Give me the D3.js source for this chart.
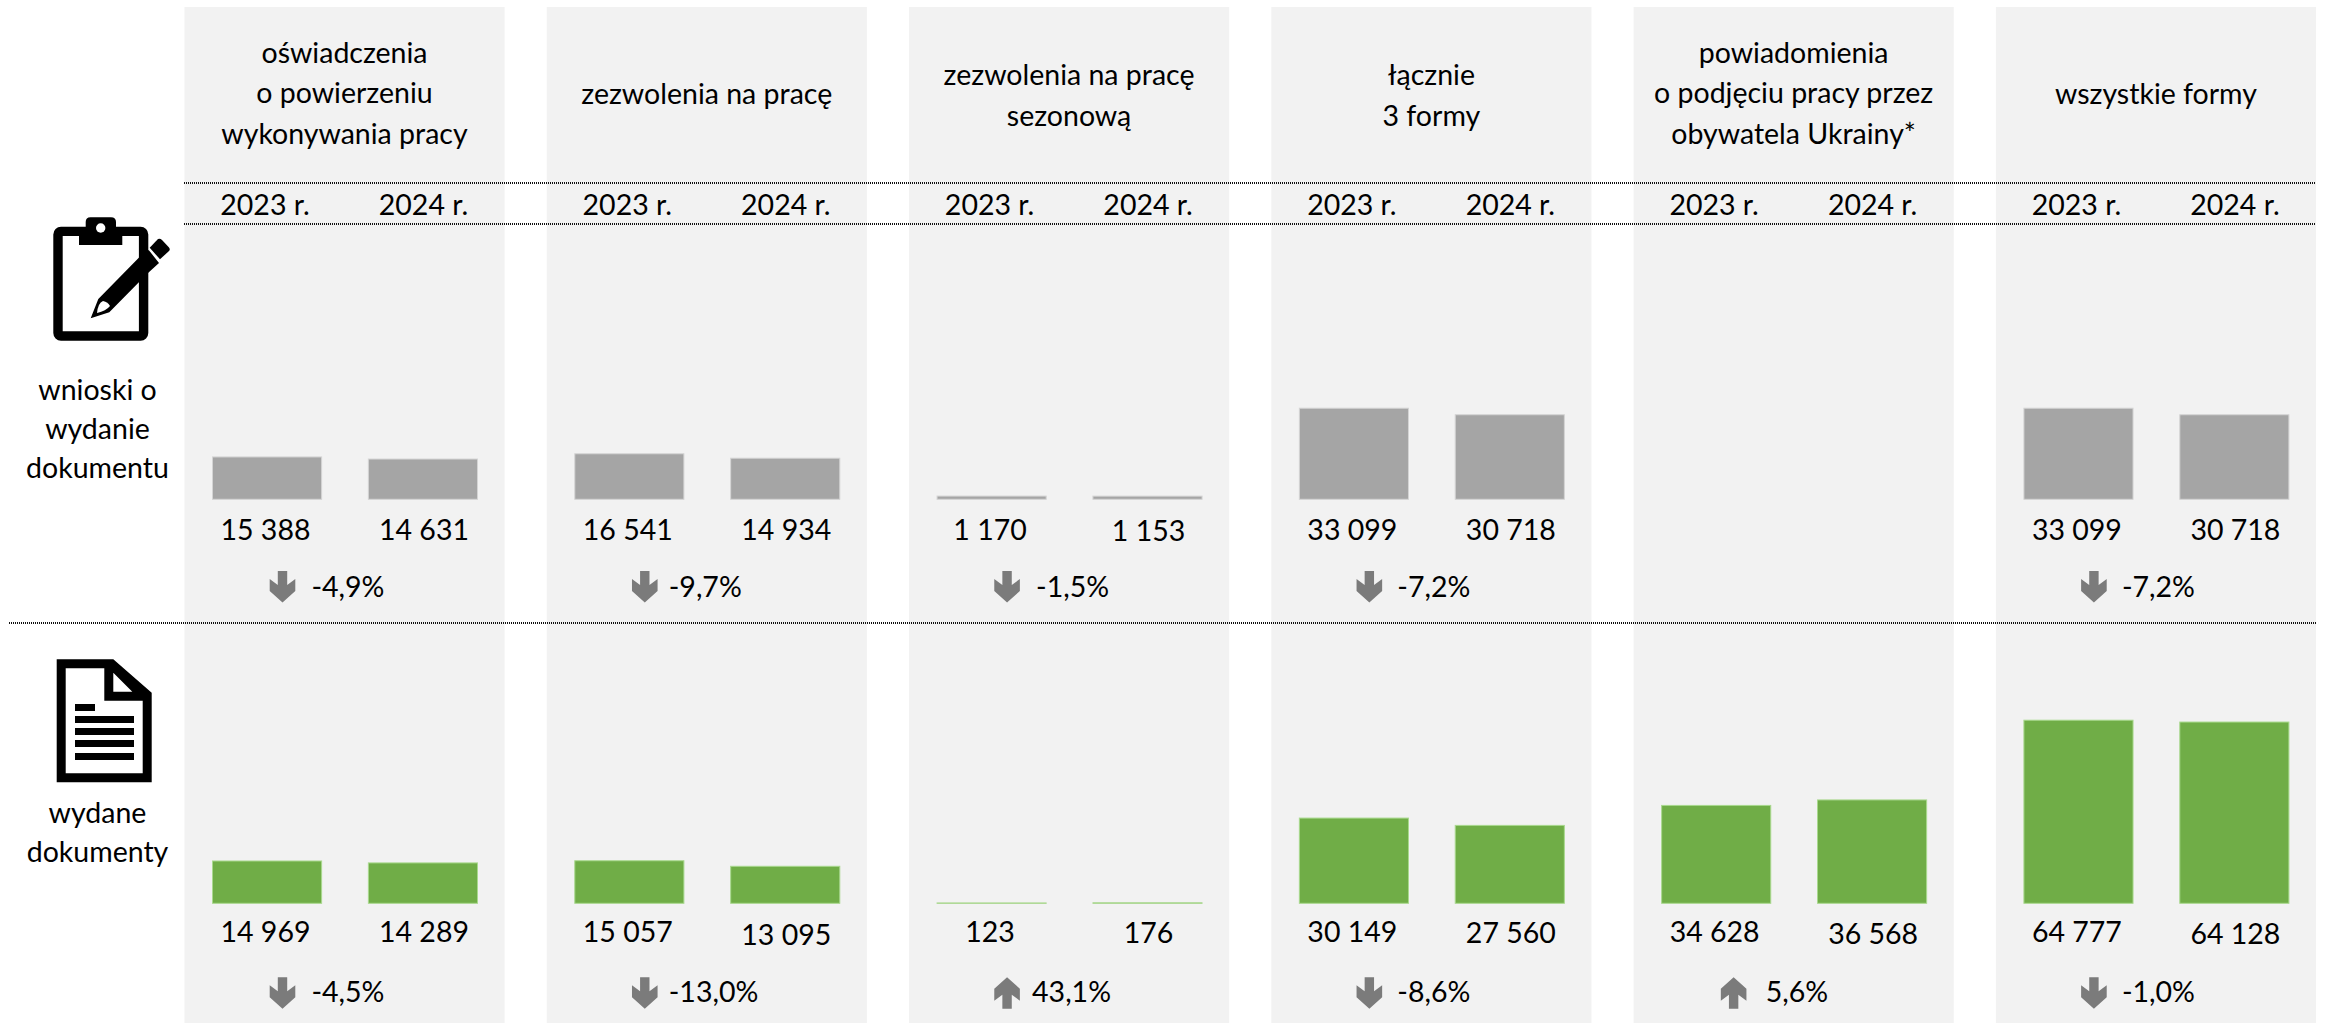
<!DOCTYPE html>
<html lang="pl">
<head>
<meta charset="utf-8">
<title>Dokumenty</title>
<script src="https://cdn.jsdelivr.net/npm/d3@7"></script>
<style>
  html, body { margin: 0; padding: 0; background: #fff; }
  svg { display: block; }
  text { font-family: Lato, "Open Sans", sans-serif; font-size: 28.5px; fill: #000; }
</style>
</head>
<body>
<svg id="wykres" width="2326" height="1023"></svg>
<script>
// dane
const lata = ["2023 r.", "2024 r."];
const formy = [
  ["oświadczenia", "o powierzeniu", "wykonywania pracy"],
  ["zezwolenia na pracę"],
  ["zezwolenia na pracę", "sezonową"],
  ["łącznie", "3 formy"],
  ["powiadomienia", "o podjęciu pracy przez", "obywatela Ukrainy*"],
  ["wszystkie formy"]
];
const wnioski2023 = [15388, 16541, 1170, 33099, null, 33099];
const wnioski2024 = [14631, 14934, 1153, 30718, null, 30718];
const wnioskiZmiana = [-4.9, -9.7, -1.5, -7.2, null, -7.2];
const wydane2023 = [14969, 15057, 123, 30149, 34628, 64777];
const wydane2024 = [14289, 13095, 176, 27560, 36568, 64128];
const wydaneZmiana = [-4.5, -13.0, 43.1, -8.6, 5.6, -1.0];

const svg = d3.select("#wykres");
const pl = d3.formatLocale({ decimal: ",", thousands: " ", grouping: [3], currency: ["", " zł"], minus: "-" });
const liczba = pl.format(",d");
const procent = v => pl.format(".1f")(v) + "%";

// kolumny i slupki
const kolumna = d3.scaleBand().domain(d3.range(6)).range([184.5, 2316]).paddingInner(42.2 / 362.3).paddingOuter(0);
const xRok = d3.scaleBand().domain(lata).range([28, 293]).paddingInner(0.3);
const yWnioski = d3.scaleLinear().domain([0, 33099]).range([499.3, 408.2]);
const yWydane = d3.scaleLinear().domain([0, 64777]).range([903.3, 720.2]);

// panele w tle
svg.selectAll("rect.panel")
  .data(d3.range(6))
  .enter().append("rect")
  .attr("class", "panel")
  .attr("x", d => kolumna(d))
  .attr("y", 7)
  .attr("width", kolumna.bandwidth())
  .attr("height", 1016)
  .attr("fill", "#f2f2f2");

// linie kropkowane
[[184, 183], [184, 224], [9, 623]].forEach(([x0, y]) => {
  svg.append("line")
    .attr("x1", x0).attr("x2", 2316)
    .attr("y1", y).attr("y2", y)
    .attr("stroke", "#111")
    .attr("stroke-width", 2)
    .attr("stroke-dasharray", "1 1");
});

// naglowki
const wysokoscWiersza = 40.6;
const startNaglowka = { 1: 104, 2: 85, 3: 62.7 };
formy.forEach((wiersze, i) => {
  const g = svg.append("g").attr("transform", `translate(${kolumna(i)},0)`);
  g.selectAll("text.forma")
    .data(wiersze)
    .enter().append("text")
    .attr("class", "forma")
    .attr("x", 160)
    .attr("y", (d, k) => startNaglowka[wiersze.length] + k * wysokoscWiersza)
    .attr("text-anchor", "middle")
    .text(d => d);
  g.selectAll("text.rok")
    .data(lata)
    .enter().append("text")
    .attr("class", "rok")
    .attr("x", (d, k) => [80.5, 239][k])
    .attr("y", 215)
    .attr("text-anchor", "middle")
    .text(d => d);
});

const strzalkaDol = "M-4.7,0 L4.7,0 L4.7,14 L12.8,8 L12.8,20 L0,31.4 L-12.8,20 L-12.8,8 L-4.7,14 Z";
const strzalkaGora = "M-4.7,31.4 L4.7,31.4 L4.7,17.4 L12.8,23.4 L12.8,11.4 L0,0 L-12.8,11.4 L-12.8,23.4 L-4.7,17.4 Z";

// jeden wiersz slupkow
function rzad(v23, v24, zmiana, y, kolor, obrys, yEtykiety, yStrzalki, yProcentu, xProcentu, xStrzalki, korekta) {
  d3.range(6).forEach(i => {
    if (v23[i] === null) return;
    const g = svg.append("g").attr("transform", `translate(${kolumna(i)},0)`);
    const wartosci = [v23[i], v24[i]];
    g.selectAll("rect.slupek")
      .data(wartosci)
      .enter().append("rect")
      .attr("class", "slupek")
      .attr("x", (d, k) => xRok(lata[k]))
      .attr("y", d => y(d))
      .attr("width", xRok.bandwidth())
      .attr("height", d => y(0) - y(d))
      .attr("fill", kolor)
      .attr("stroke", obrys)
      .attr("stroke-width", 1);
    g.selectAll("text.wartosc")
      .data(wartosci)
      .enter().append("text")
      .attr("class", "wartosc")
      .attr("x", (d, k) => [81, 239.5][k])
      .attr("y", (d, k) => yEtykiety + korekta[i][k])
      .attr("text-anchor", "middle")
      .text(d => liczba(d));
    g.append("path")
      .attr("d", zmiana[i] < 0 ? strzalkaDol : strzalkaGora)
      .attr("transform", `translate(${xStrzalki[i]},${yStrzalki})`)
      .attr("fill", "#7b7b7b");
    g.append("text")
      .attr("x", xProcentu[i])
      .attr("y", yProcentu)
      .text(procent(zmiana[i]));
  });
}

rzad(wnioski2023, wnioski2024, wnioskiZmiana, yWnioski, "#a5a5a5", "#d4d4d4",
  539.5, 571, 597.3, [127, 122, 127, 126, 0, 126], [98, 98, 98, 98, 0, 98],
  [[0, 0], [0, 0], [0, 1], [0, 0], [0, 0], [0, 0]]);
rzad(wydane2023, wydane2024, wydaneZmiana, yWydane, "#70ad47", "#a9d98e",
  941.7, 977.3, 1001.7, [127, 122, 123, 126, 132, 126], [98, 98, 98, 98, 100, 98],
  [[0, 0], [0, 3], [0, 1], [0, 1], [0, 2], [0, 2.5]]);

// opisy po lewej
[["wnioski o", 400], ["wydanie", 439], ["dokumentu", 478], ["wydane", 823], ["dokumenty", 862]].forEach(([t, y]) => {
  svg.append("text").attr("x", 97.5).attr("y", y).attr("text-anchor", "middle").text(t);
});

// ikona: podkladka z piorem
const ikona1 = svg.append("g");
ikona1.append("rect").attr("x", 58).attr("y", 231.4).attr("width", 85.6).attr("height", 104.6)
  .attr("rx", 3).attr("fill", "#fff").attr("stroke", "#000").attr("stroke-width", 9.4);
ikona1.append("path").attr("d", "M79,227 H85.7 V222 Q85.7,217.3 90.5,217.3 H111 Q116,217.3 116,222 V227 H122.3 V245 H79 Z");
ikona1.append("circle").attr("cx", 100.7).attr("cy", 228).attr("r", 4.7).attr("fill", "#fff");
ikona1.append("path").attr("d", "M90.7,318.3 L98.3,299 L139.3,257.3 L148.7,250 L159,263 L148,273 L109.3,312.3 Z");
ikona1.append("path").attr("d", "M149.7,247.7 L158,239 Q160,238 162,240 L169,247.5 Q170.5,249.5 169,251 L160,259.3 Z");
ikona1.append("path").attr("d", "M97,313 Q98,303 103,301 Q108,302 110,306 Q106,311 97,313 Z").attr("fill", "#fff");

// ikona: dokument
const ikona2 = svg.append("g");
ikona2.append("path").attr("fill-rule", "evenodd")
  .attr("d", "M56.7,659.3 H113.3 L151.7,692.7 V782.3 H56.7 Z M65.7,668.3 V773.3 H142.7 V700.7 H104.3 V668.3 Z M113.3,672.7 V691.7 H132.3 Z");
[[704, 20], [716, 59], [728, 59], [740, 59], [753, 59]].forEach(([y, w]) => {
  ikona2.append("rect").attr("x", 75).attr("y", y).attr("width", w).attr("height", 7);
});
</script>
</body>
</html>
